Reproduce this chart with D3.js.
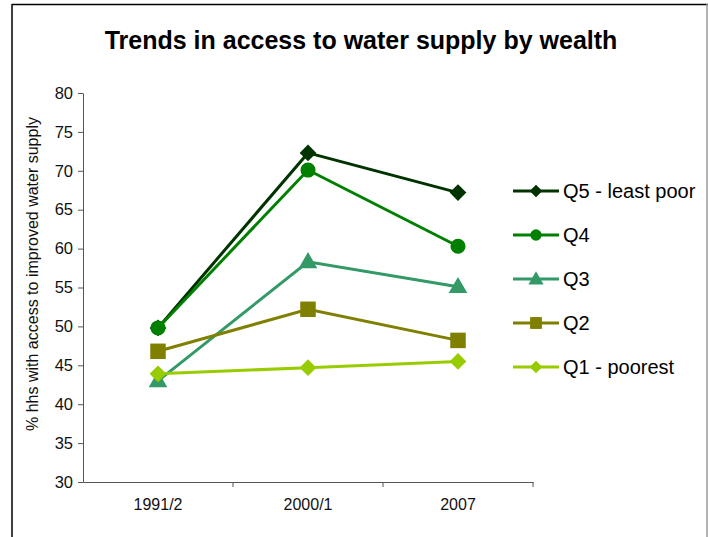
<!DOCTYPE html>
<html>
<head>
<meta charset="utf-8">
<script src="https://cdn.jsdelivr.net/npm/d3@7"></script>
<style>
  html, body { margin: 0; padding: 0; background: #fff; }
  svg { display: block; font-family: "Liberation Sans", Arial, sans-serif; }
</style>
</head>
<body>
<svg id="chart" width="708" height="537"></svg>
<script>
// Survey rounds along the x axis
const periods = ["1991/2", "2000/1", "2007"];

// Wealth quintiles, listed as in the legend
const seriesNames = ["Q5 - least poor", "Q4", "Q3", "Q2", "Q1 - poorest"];
const seriesColors = ["#003300", "#008000", "#339966", "#808000", "#99cc00"];
const seriesSymbols = ["diamond", "circle", "triangle", "square", "diamond"];

// % of households with access to improved water supply
const q5Values = [49.8, 72.3, 67.2];
const q4Values = [49.8, 70.1, 60.3];
const q3Values = [43.0, 58.3, 55.1];
const q2Values = [46.8, 52.2, 48.2];
const q1Values = [43.9, 44.7, 45.5];

const yTicks = [30, 35, 40, 45, 50, 55, 60, 65, 70, 75, 80];

const seriesValues = [q5Values, q4Values, q3Values, q2Values, q1Values];
const series = seriesNames.map((name, i) => ({
  name, color: seriesColors[i], symbol: seriesSymbols[i],
  values: seriesValues[i].map((v, j) => ({ period: periods[j], value: v }))
}));

const svg = d3.select("#chart");
const FONT = "Liberation Sans, Arial, sans-serif";

// Frame around the chart area
svg.append("line").attr("x1", 12).attr("y1", 4.5).attr("x2", 708).attr("y2", 4.5)
  .attr("stroke", "#000").attr("stroke-width", 1.5);
svg.append("line").attr("x1", 12).attr("y1", 4).attr("x2", 12).attr("y2", 537)
  .attr("stroke", "#000").attr("stroke-width", 1.5);
svg.append("line").attr("x1", 707).attr("y1", 4).attr("x2", 707).attr("y2", 537)
  .attr("stroke", "#999").attr("stroke-width", 1.5);

// Title
svg.append("text")
  .attr("x", 361).attr("y", 49)
  .attr("text-anchor", "middle")
  .attr("font-size", 25).attr("font-weight", "bold")
  .attr("fill", "#000")
  .text("Trends in access to water supply by wealth");

const plot = { left: 83, right: 533, top: 93, bottom: 482 };

const x = d3.scaleBand().domain(periods).range([plot.left, plot.right]);
const y = d3.scaleLinear().domain([30, 80]).range([plot.bottom, plot.top]);

// Y axis
const yAxis = svg.append("g")
  .attr("transform", `translate(${plot.left},0)`)
  .call(d3.axisLeft(y).tickValues(yTicks).tickSize(5).tickPadding(5).tickSizeOuter(0));
yAxis.attr("font-size", null).attr("font-family", null);
yAxis.select(".domain").attr("stroke", "#555");
yAxis.selectAll(".tick line").attr("stroke", "#555");
yAxis.selectAll(".tick text").attr("font-size", 16.5).attr("fill", "#111")
  .attr("font-family", FONT);

// X axis: ticks sit on the band boundaries
const xAxis = svg.append("g")
  .attr("transform", `translate(0,${plot.bottom})`)
  .call(d3.axisBottom(x).tickSize(0).tickPadding(17).tickSizeOuter(0));
xAxis.attr("font-size", null).attr("font-family", null);
xAxis.select(".domain").attr("stroke", "#555");
xAxis.selectAll(".tick text").attr("font-size", 16).attr("fill", "#111")
  .attr("font-family", FONT);
xAxis.selectAll(".boundary")
  .data(periods)
  .join("line")
  .attr("class", "boundary")
  .attr("x1", d => x(d) + x.bandwidth()).attr("x2", d => x(d) + x.bandwidth())
  .attr("y1", 0).attr("y2", 5)
  .attr("stroke", "#555");

// Y axis title
svg.append("text")
  .attr("transform", `translate(38,274) rotate(-90)`)
  .attr("text-anchor", "middle")
  .attr("font-size", 16)
  .attr("fill", "#111")
  .text("% hhs with access to improved water supply");

const symbolTypes = {
  diamond: d3.symbolSquare, circle: d3.symbolCircle,
  triangle: d3.symbolTriangle, square: d3.symbolSquare
};
function symbolPath(kind, size) {
  return d3.symbol().type(symbolTypes[kind]).size(size)();
}
function symbolTransform(kind, cx, cy) {
  if (kind === "diamond") return `translate(${cx},${cy}) rotate(45)`;
  if (kind === "triangle") return `translate(${cx},${cy + 1})`;
  return `translate(${cx},${cy})`;
}
const markerSize = { diamond: 140, circle: 180, triangle: 150, square: 240 };
const legendSize = { diamond: 80, circle: 100, triangle: 100, square: 140 };

const line = d3.line()
  .x(d => x(d.period) + x.bandwidth() / 2)
  .y(d => y(d.value));

const groups = svg.selectAll(".series")
  .data(series)
  .join("g")
  .attr("class", "series");

groups.append("path")
  .attr("d", d => line(d.values))
  .attr("fill", "none")
  .attr("stroke", d => d.color)
  .attr("stroke-width", 3);

groups.each(function(s) {
  d3.select(this).selectAll(".marker")
    .data(s.values)
    .join("path")
    .attr("class", "marker")
    .attr("d", symbolPath(s.symbol, markerSize[s.symbol]))
    .attr("transform", d => symbolTransform(s.symbol, x(d.period) + x.bandwidth() / 2, y(d.value)))
    .attr("fill", s.color);
});

// Legend
const legend = svg.append("g").attr("transform", "translate(513,191)");
const rows = legend.selectAll(".row")
  .data(series)
  .join("g")
  .attr("class", "row")
  .attr("transform", (d, i) => `translate(0,${i * 44})`);
rows.append("line")
  .attr("x1", 0).attr("x2", 46).attr("y1", 0).attr("y2", 0)
  .attr("stroke", d => d.color).attr("stroke-width", 3);
rows.append("path")
  .attr("d", d => symbolPath(d.symbol, legendSize[d.symbol]))
  .attr("transform", d => symbolTransform(d.symbol, 23, 0))
  .attr("fill", d => d.color);
rows.append("text")
  .attr("x", 50).attr("y", 7)
  .attr("font-size", 20)
  .attr("fill", "#000")
  .text(d => d.name);
</script>
</body>
</html>
